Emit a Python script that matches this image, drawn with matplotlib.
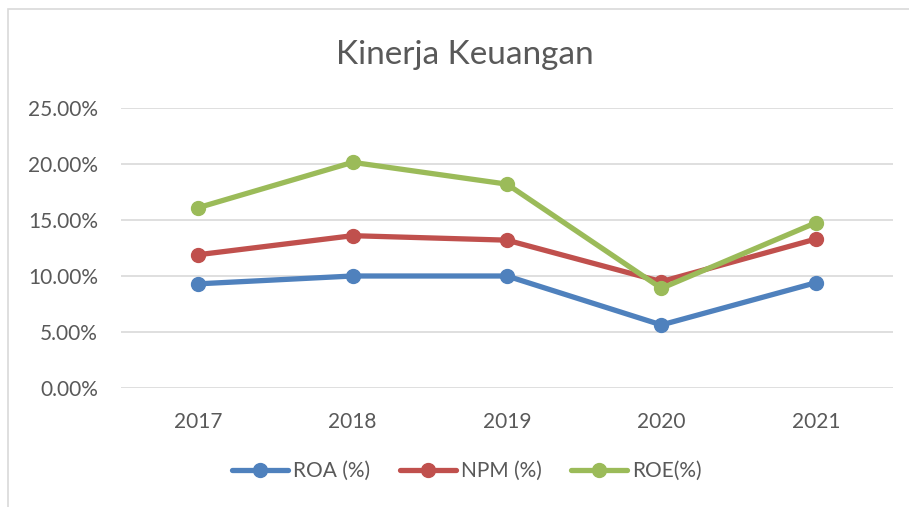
import matplotlib
matplotlib.use("Agg")
import matplotlib.pyplot as plt
from matplotlib.patches import Rectangle
from matplotlib.ticker import FuncFormatter

# Data
years = ["2017", "2018", "2019", "2020", "2021"]
roa = [9.3, 10.0, 10.0, 5.63, 9.4]
npm = [11.9, 13.6, 13.2, 9.5, 13.3]
roe = [16.1, 20.15, 18.2, 8.9, 14.75]

series_names = ["ROA (%)", "NPM (%)", "ROE(%)"]
series_colors = ["#4F81BD", "#C0504D", "#9BBB59"]

plt.rcParams["font.family"] = ["Lato", "DejaVu Sans"]
text_color = "#595959"

fig = plt.figure(figsize=(9.09, 5.07), dpi=100)
# outer chart border (cut off on the right and bottom like the screenshot)
fig.patches.append(Rectangle((8 / 909, -0.05), 1.2, (507 - 9) / 507 + 0.05,
                             transform=fig.transFigure, fill=False,
                             edgecolor="#D9D9D9", linewidth=1.2))

ax = fig.add_axes([121 / 909, 1 - 388 / 507, (893 - 121) / 909, (388 - 108) / 507])

x = list(range(len(years)))
for vals, name, col in zip([roa, npm, roe], series_names, series_colors):
    ax.plot(x, vals, color=col, linewidth=3.8, marker="o", markersize=10,
            label=name, solid_capstyle="round", solid_joinstyle="round", zorder=3)

ax.set_xlim(-0.5, len(years) - 0.5)
ax.set_ylim(0, 25)
ax.set_yticks([0, 5, 10, 15, 20, 25])
ax.yaxis.set_major_formatter(FuncFormatter(lambda v, p: f"{v:.2f}%"))
ax.set_xticks(x)
ax.set_xticklabels(years)
ax.grid(axis="y", color="#D9D9D9", linewidth=1.2)
ax.set_axisbelow(True)
for s in ax.spines.values():
    s.set_visible(False)
ax.tick_params(length=0, labelsize=15, colors=text_color)
ax.tick_params(axis="y", pad=16.5)
ax.tick_params(axis="x", pad=17)

fig.text(465 / 909, 1 - 55 / 507, "Kinerja Keuangan", ha="center", va="center",
         fontsize=24, color=text_color)

ax.legend(loc="center", bbox_to_anchor=(467 / 909, 1 - 471 / 507),
          bbox_transform=fig.transFigure, ncol=3, frameon=False,
          fontsize=15, labelcolor=text_color, handlelength=2.7,
          handletextpad=0.25, columnspacing=1.4)

fig.savefig("out.png", dpi=100)
